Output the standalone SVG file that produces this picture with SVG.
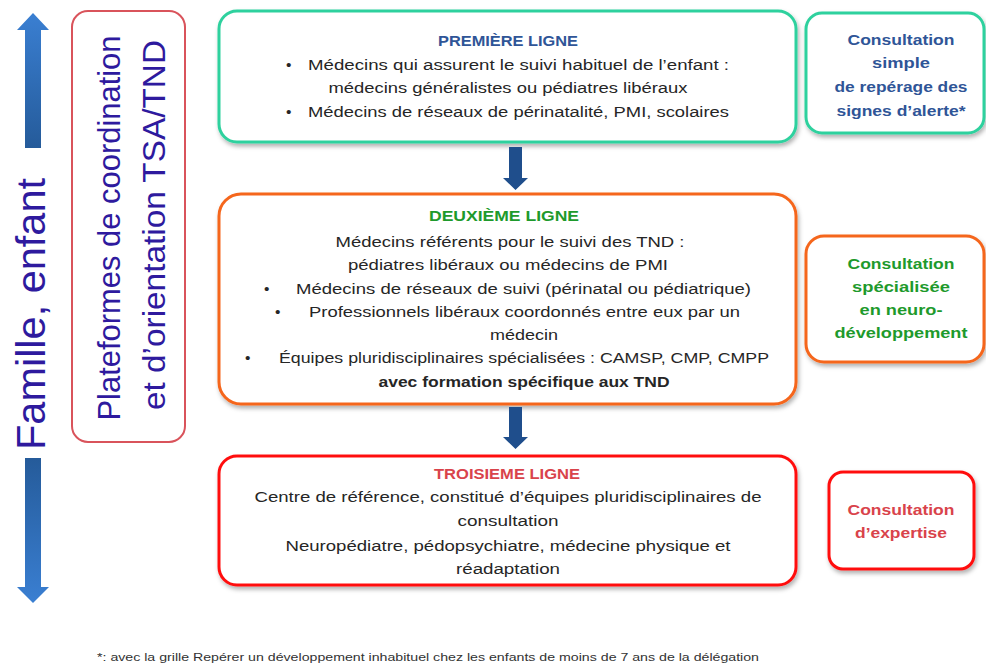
<svg xmlns="http://www.w3.org/2000/svg" width="986" height="664" viewBox="0 0 986 664">
<defs>
<filter id="sh" x="-10%" y="-10%" width="120%" height="130%">
<feDropShadow dx="1.5" dy="3" stdDeviation="2" flood-color="#000" flood-opacity="0.3"/>
</filter>
<linearGradient id="gUp" x1="0" y1="0" x2="0" y2="1">
<stop offset="0" stop-color="#3a7fd2"/>
<stop offset="1" stop-color="#255b9a"/>
</linearGradient>
<linearGradient id="gDown" x1="0" y1="0" x2="0" y2="1">
<stop offset="0" stop-color="#255b9a"/>
<stop offset="1" stop-color="#3a7fd2"/>
</linearGradient>
<style>
text{font-family:"Liberation Sans",Arial,sans-serif;}
.box{fill:#fff;stroke-width:3;filter:url(#sh);}
.teal{stroke:#2fd19e;}
.orange{stroke:#f5661c;}
.red{stroke:#ff1010;}
.body{font-size:15.5px;fill:#262626;text-anchor:middle;}
.bl{font-size:15.5px;fill:#262626;}
.t{font-size:15px;font-weight:bold;text-anchor:middle;}
.r{font-size:15.5px;font-weight:bold;text-anchor:middle;}
.blue{fill:#2f5597;}
.green{fill:#1e9a2c;}
.rt{fill:#d9434b;}
.big{fill:#2e1a9e;text-anchor:middle;}
.conn{fill:#1f4e8c;}
</style>
</defs>

<g id="axis">
<polygon points="33,13 49,30 41,30 41,148 25,148 25,30 17,30" fill="url(#gUp)"/>
<polygon points="25,458 41,458 41,587 49,587 33,603 17,587 25,587" fill="url(#gDown)"/>
<text class="big" font-size="40" textLength="272" lengthAdjust="spacingAndGlyphs" transform="translate(45,314) rotate(-90)">Famille, enfant</text>
</g>

<g id="plateformes">
<rect x="72" y="11" width="113" height="431" rx="16" fill="#fff" stroke="#d9535b" stroke-width="2"/>
<text class="big" font-size="31" textLength="385" lengthAdjust="spacingAndGlyphs" transform="translate(120,228) rotate(-90)">Plateformes de coordination</text>
<text class="big" font-size="31" textLength="370" lengthAdjust="spacingAndGlyphs" transform="translate(165,225) rotate(-90)">et d’orientation TSA/TND</text>
</g>

<g id="premiere-ligne">
<rect class="box teal" x="219" y="11" width="577" height="131" rx="18"/>
<text class="t blue" x="508" y="46" textLength="140" lengthAdjust="spacingAndGlyphs">PREMIÈRE LIGNE</text>
<text class="bl" x="286" y="70">•</text>
<text class="bl" x="308" y="70" textLength="421" lengthAdjust="spacingAndGlyphs">Médecins qui assurent le suivi habituel de l’enfant :</text>
<text class="body" x="508" y="93" textLength="359" lengthAdjust="spacingAndGlyphs">médecins généralistes ou pédiatres libéraux</text>
<text class="bl" x="286" y="117">•</text>
<text class="bl" x="308" y="117" textLength="421" lengthAdjust="spacingAndGlyphs">Médecins de réseaux de périnatalité, PMI, scolaires</text>
</g>

<g id="consultation-simple">
<rect class="box teal" x="806" y="13" width="178" height="120" rx="16"/>
<text class="r blue" x="901" y="45" textLength="107" lengthAdjust="spacingAndGlyphs">Consultation</text>
<text class="r blue" x="901" y="68" textLength="58" lengthAdjust="spacingAndGlyphs">simple</text>
<text class="r blue" x="901" y="92" textLength="133" lengthAdjust="spacingAndGlyphs">de repérage des</text>
<text class="r blue" x="901" y="116" textLength="129" lengthAdjust="spacingAndGlyphs">signes d’alerte*</text>
</g>

<g id="deuxieme-ligne">
<rect class="box orange" x="219" y="194" width="577" height="210" rx="22"/>
<text class="t green" x="504" y="221" textLength="150" lengthAdjust="spacingAndGlyphs">DEUXIÈME LIGNE</text>
<text class="body" x="510" y="247" textLength="349" lengthAdjust="spacingAndGlyphs">Médecins référents pour le suivi des TND :</text>
<text class="body" x="508" y="270" textLength="320" lengthAdjust="spacingAndGlyphs">pédiatres libéraux ou médecins de PMI</text>
<text class="bl" x="264" y="294">•</text>
<text class="bl" x="296" y="294" textLength="455" lengthAdjust="spacingAndGlyphs">Médecins de réseaux de suivi (périnatal ou pédiatrique)</text>
<text class="bl" x="275" y="317">•</text>
<text class="bl" x="309" y="317" textLength="431" lengthAdjust="spacingAndGlyphs">Professionnels libéraux coordonnés entre eux par un</text>
<text class="body" x="524" y="340" textLength="68" lengthAdjust="spacingAndGlyphs">médecin</text>
<text class="bl" x="245" y="363">•</text>
<text class="bl" x="279" y="363" textLength="490" lengthAdjust="spacingAndGlyphs">Équipes pluridisciplinaires spécialisées : CAMSP, CMP, CMPP</text>
<text class="body" x="524" y="387" font-weight="bold" fill="#1a1a1a" textLength="291" lengthAdjust="spacingAndGlyphs">avec formation spécifique aux TND</text>
</g>

<g id="consultation-specialisee">
<rect class="box orange" x="806" y="236" width="178" height="126" rx="18"/>
<text class="r green" x="901" y="269" textLength="107" lengthAdjust="spacingAndGlyphs">Consultation</text>
<text class="r green" x="901" y="292" textLength="98" lengthAdjust="spacingAndGlyphs">spécialisée</text>
<text class="r green" x="901" y="315" textLength="83" lengthAdjust="spacingAndGlyphs">en neuro-</text>
<text class="r green" x="901" y="338" textLength="133" lengthAdjust="spacingAndGlyphs">développement</text>
</g>

<g id="troisieme-ligne">
<rect class="box red" x="219" y="456" width="577" height="129" rx="18"/>
<text class="t rt" x="507" y="479" textLength="146" lengthAdjust="spacingAndGlyphs">TROISIEME LIGNE</text>
<text class="body" x="508" y="502" textLength="507" lengthAdjust="spacingAndGlyphs">Centre de référence, constitué d’équipes pluridisciplinaires de</text>
<text class="body" x="508" y="526" textLength="101" lengthAdjust="spacingAndGlyphs">consultation</text>
<text class="body" x="508" y="551" textLength="445" lengthAdjust="spacingAndGlyphs">Neuropédiatre, pédopsychiatre, médecine physique et</text>
<text class="body" x="508" y="574" textLength="104" lengthAdjust="spacingAndGlyphs">réadaptation</text>
</g>

<g id="consultation-expertise">
<rect class="box red" x="829" y="472" width="145" height="97" rx="14"/>
<text class="r rt" x="901" y="515" textLength="107" lengthAdjust="spacingAndGlyphs">Consultation</text>
<text class="r rt" x="901" y="538" textLength="92" lengthAdjust="spacingAndGlyphs">d’expertise</text>
</g>

<g id="connectors">
<polygon class="conn" points="509,147 522,147 522,178 528,178 515.5,190 503,178 509,178"/>
<polygon class="conn" points="509,407 522,407 522,437 528,437 515.5,449 503,437 509,437"/>
</g>

<g id="footnote">
<text x="97" y="661" font-size="11.5" fill="#333" textLength="662" lengthAdjust="spacingAndGlyphs">*: avec la grille Repérer un développement  inhabituel chez les enfants de moins de 7 ans de la délégation</text>
</g>
</svg>
